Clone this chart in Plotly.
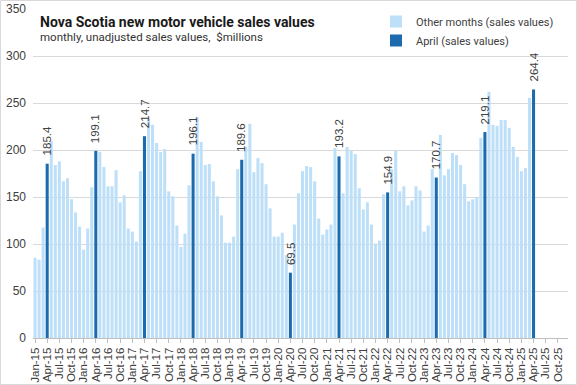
import plotly.graph_objects as go

month_names = ["Jan", "Feb", "Mar", "Apr", "May", "Jun", "Jul", "Aug", "Sep", "Oct", "Nov", "Dec"]
years = ["15", "16", "17", "18", "19", "20", "21", "22", "23", "24", "25"]
categories = [f"{m}-{y}" for y in years for m in month_names]

sales_2015 = [85.4, 83.2, 117.5, 185.4, 209.6, 184.0, 188.0, 166.8, 170.0, 147.5, 133.6, 118.6]
sales_2016 = [94.0, 116.4, 160.4, 199.1, 197.9, 181.8, 161.4, 161.4, 178.6, 144.3, 151.8, 116.4]
sales_2017 = [113.2, 102.5, 177.5, 214.7, 233.0, 226.8, 207.5, 197.9, 201.0, 156.0, 150.7, 119.6]
sales_2018 = [97.1, 111.0, 162.5, 196.1, 234.6, 208.6, 184.0, 185.0, 166.8, 150.7, 130.4, 101.4]
sales_2019 = [101.4, 107.9, 179.6, 189.6, 203.2, 227.9, 176.4, 191.4, 186.0, 163.6, 137.9, 107.9]
sales_2020 = [107.9, 112.0, 88.0, 69.5, 120.7, 153.9, 177.5, 182.9, 181.8, 166.8, 127.1, 110.0]
sales_2021 = [115.4, 120.7, 202.0, 193.2, 153.9, 203.2, 199.0, 195.7, 159.3, 136.8, 144.3, 120.7]
sales_2022 = [100.4, 103.6, 152.9, 154.9, 179.6, 199.0, 156.0, 161.4, 141.0, 146.4, 161.4, 157.0]
sales_2023 = [113.2, 119.6, 179.6, 170.7, 216.0, 173.0, 179.6, 196.8, 194.6, 184.0, 163.6, 145.4]
sales_2024 = [147.5, 150.0, 212.9, 219.1, 262.0, 226.8, 225.7, 232.0, 232.0, 223.6, 203.2, 192.5]
sales_2025 = [177.5, 180.7, 255.7, 264.4]

values = (sales_2015 + sales_2016 + sales_2017 + sales_2018 + sales_2019 + sales_2020
          + sales_2021 + sales_2022 + sales_2023 + sales_2024 + sales_2025)
values = values + [None] * (len(categories) - len(values))

other_vals = [v if not c.startswith("Apr") else None for c, v in zip(categories, values)]
april_vals = [v if c.startswith("Apr") else None for c, v in zip(categories, values)]

tick_vals = categories[::3]
tick_text = categories[::3]

LIGHT = "#BDDFF8"
DARK = "#1B6BAE"
TXT = "#404040"

fig = go.Figure()
fig.add_trace(go.Bar(
    x=categories, y=other_vals, name="Other months (sales values)",
    marker=dict(color=LIGHT, line=dict(width=0)),
))
fig.add_trace(go.Bar(
    x=categories, y=april_vals, name="April (sales values)",
    marker=dict(color=DARK, line=dict(width=0)),
))

W, H = 577, 385
L, R, T, B = 33, 9, 9, 47
pw, ph = W - L - R, H - T - B

def px_x(p):
    return (p - L) / pw

def px_y(p):
    return 1 - (p - T) / ph

label_annotations = [
    dict(x=c, y=v, xref="x", yref="y", text=f"{v:.1f}", textangle=-90,
         xanchor="center", yanchor="bottom", yshift=6, showarrow=False,
         font=dict(family="Liberation Sans, Arial, sans-serif", size=11.5, color=TXT))
    for c, v in zip(categories, april_vals) if v is not None
]

fig.update_layout(
    width=W, height=H,
    margin=dict(l=L, r=R, t=T, b=B, autoexpand=False),
    paper_bgcolor="white", plot_bgcolor="white",
    barmode="overlay", bargap=0.25,
    showlegend=True,
    legend=dict(
        x=px_x(376), y=px_y(7), xanchor="left", yanchor="top",
        bgcolor="rgba(255,255,255,0)",
        font=dict(family="Roboto, sans-serif", size=11, color=TXT),
        itemwidth=30, tracegroupgap=0,
    ),
    xaxis=dict(
        type="category", categoryorder="array", categoryarray=categories,
        tickmode="array", tickvals=tick_vals, ticktext=tick_text, tickangle=-90,
        tickfont=dict(family="Liberation Sans, Arial, sans-serif", size=11.5, color=TXT),
        showgrid=False, showline=True, linecolor="#BFBFBF", linewidth=1,
        ticks="outside", ticklen=4, tickcolor="#BFBFBF",
        range=[-0.5, len(categories) - 0.5], automargin=False,
    ),
    yaxis=dict(
        range=[0, 350], tickmode="linear", tick0=0, dtick=50,
        tickfont=dict(family="Liberation Sans, Arial, sans-serif", size=12, color=TXT),
        showgrid=True, gridcolor="#D9D9D9", gridwidth=1,
        zeroline=False, showline=False, ticks="", ticklabelstandoff=6,
        automargin=False,
    ),
    annotations=[
        dict(text="<b>Nova Scotia new motor vehicle sales values</b>",
             xref="paper", yref="paper", x=px_x(38), y=px_y(21.5),
             xanchor="left", yanchor="middle", showarrow=False,
             font=dict(family="Roboto, sans-serif", size=14, color="#1A1A1A")),
        dict(text="monthly, unadjusted sales values,  $millions",
             xref="paper", yref="paper", x=px_x(38), y=px_y(37),
             xanchor="left", yanchor="middle", showarrow=False,
             font=dict(family="Roboto, sans-serif", size=11.5, color="#333333")),
    ] + label_annotations,
    shapes=[
        dict(type="rect", xref="paper", yref="paper",
             x0=px_x(0.5), x1=px_x(576.5), y0=px_y(384.5), y1=px_y(0.5),
             line=dict(color="#D9D9D9", width=1), fillcolor="rgba(0,0,0,0)", layer="below"),
    ],
)

fig.write_html("out.html", config={"displayModeBar": False},
               post_script="document.body.style.margin='0';document.body.style.overflow='hidden';")
